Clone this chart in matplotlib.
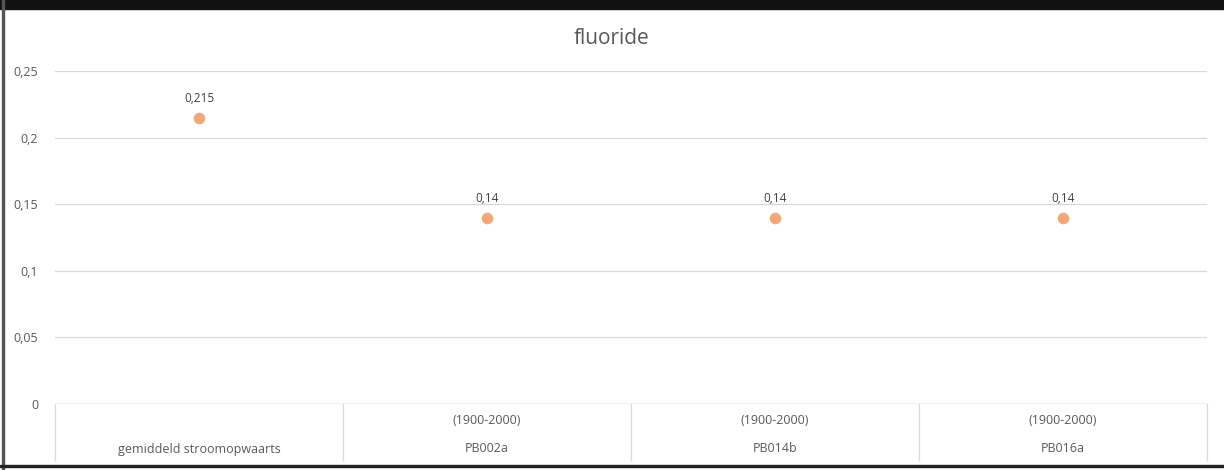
import matplotlib
matplotlib.use("Agg")
import matplotlib.pyplot as plt
import matplotlib.transforms as mtransforms
from matplotlib.patches import Rectangle

categories = ["gemiddeld stroomopwaarts", "PB002a", "PB014b", "PB016a"]
periods = ["", "(1900-2000)", "(1900-2000)", "(1900-2000)"]
values = [0.215, 0.14, 0.14, 0.14]
value_labels = ["0,215", "0,14", "0,14", "0,14"]
yticks = [0, 0.05, 0.1, 0.15, 0.2, 0.25]
ytick_labels = ["0", "0,05", "0,1", "0,15", "0,2", "0,25"]

plt.rcParams["font.family"] = ["Open Sans", "DejaVu Sans"]
text_col = "#595959"
grid_col = "#d9d9d9"

W, H = 1224, 470
fig = plt.figure(figsize=(W / 100, H / 100), dpi=100)
ax = fig.add_axes([55 / W, (H - 404) / H, (1207 - 55) / W, (404 - 71) / H])

xs = list(range(len(categories)))
ax.scatter(xs, values, s=70, color="#f2a877", zorder=3, linewidths=0)
for x, v, lab in zip(xs, values, value_labels):
    ax.annotate(lab, (x, v), xytext=(0, 9), textcoords="offset points",
                ha="center", va="bottom", fontsize=8.5, color="#404040")

ax.set_xlim(-0.5, len(categories) - 0.5)
ax.set_ylim(0, 0.25)
ax.set_yticks(yticks, labels=ytick_labels)
ax.set_xticks([])
ax.tick_params(axis="y", length=0, pad=12, labelsize=9, labelcolor=text_col)
for sp in ax.spines.values():
    sp.set_visible(False)
ax.grid(axis="y", color=grid_col, linewidth=0.9)
ax.axhline(0, color="#cfcfcf", linewidth=1.0, zorder=2)

# category separators and two-line labels below the axis
trans = mtransforms.blended_transform_factory(ax.transData, ax.transAxes)
for b in [x - 0.5 for x in xs] + [len(categories) - 0.5]:
    ax.plot([b, b], [0, -56 / 333], transform=trans, color=grid_col,
            linewidth=0.9, clip_on=False)
for x, cat, per in zip(xs, categories, periods):
    ax.text(x, -17 / 333, per, transform=trans, ha="center", va="center",
            fontsize=9, color=text_col)
    ax.text(x, -45 / 333, cat, transform=trans, ha="center", va="center",
            fontsize=9, color=text_col)

fig.text(612 / W, 1 - 38 / H, "fluoride", ha="center", va="center",
         fontsize=15, color=text_col)

# screenshot frame: dark band on top, thin border left and bottom
fig.add_artist(Rectangle((0, 1 - 9 / H), 1, 9 / H, transform=fig.transFigure,
                         color="#111111", zorder=5))
fig.add_artist(Rectangle((2 / W, 0), 1.5 / W, 1, transform=fig.transFigure,
                         color="#555555", zorder=5))
fig.add_artist(Rectangle((0, 3 / H), 1, 2 / H, transform=fig.transFigure,
                         color="#222222", zorder=5))

fig.savefig("out.png", dpi=100)
